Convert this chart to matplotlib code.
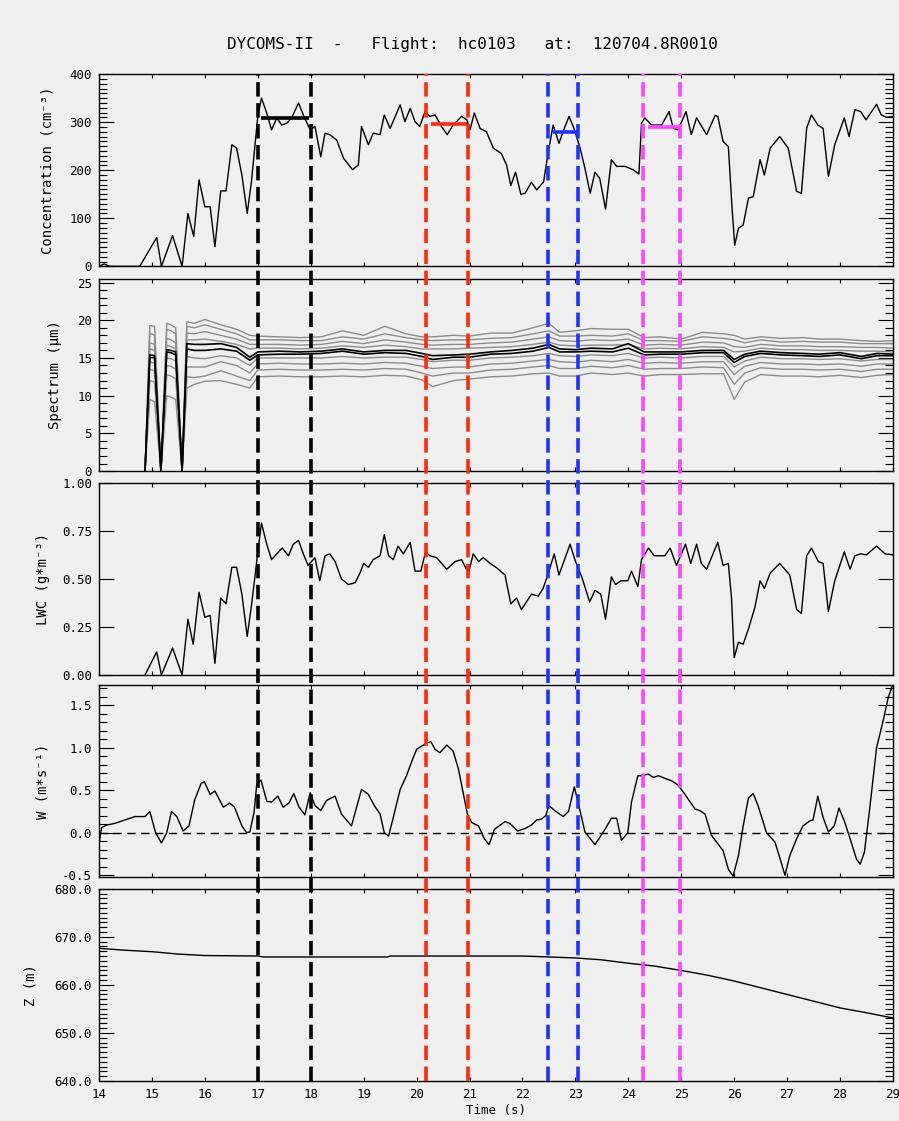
import numpy as np
import matplotlib
matplotlib.use('Agg')
import matplotlib.pyplot as plt
from matplotlib.ticker import MultipleLocator, FormatStrFormatter, NullLocator
from matplotlib.lines import Line2D
from matplotlib.transforms import blended_transform_factory

plt.rcParams['font.family'] = ['DejaVu Sans Mono', 'DejaVu Sans']

# Concentration (cm^-3)
t_conc = [14.0, 14.1, 14.2, 14.77, 15.09, 15.18, 15.39, 15.57, 15.68, 15.79, 15.89, 16.0, 16.1, 16.19,
          16.3, 16.4, 16.51, 16.6, 16.7, 16.8, 16.88, 17.0, 17.07, 17.16, 17.26, 17.36, 17.45, 17.55,
          17.64, 17.77, 17.86, 17.99, 18.08, 18.19, 18.27, 18.36, 18.49, 18.62, 18.79, 18.9, 18.96,
          19.09, 19.18, 19.31, 19.39, 19.5, 19.69, 19.78, 19.88, 19.97, 20.06, 20.16, 20.25, 20.35,
          20.47, 20.58, 20.69, 20.85, 20.95, 21.01, 21.09, 21.2, 21.32, 21.45, 21.6, 21.7, 21.78,
          21.87, 21.97, 22.05, 22.17, 22.27, 22.4, 22.49, 22.58, 22.69, 22.78, 22.88, 22.97, 23.09,
          23.18, 23.28, 23.37, 23.46, 23.57, 23.68, 23.78, 23.94, 24.09, 24.2, 24.25, 24.31, 24.44,
          24.63, 24.77, 24.85, 24.94, 25.09, 25.19, 25.29, 25.48, 25.64, 25.69, 25.79, 25.89, 25.96,
          26.01, 26.08, 26.17, 26.27, 26.36, 26.49, 26.57, 26.68, 26.86, 27.02, 27.18, 27.27, 27.37,
          27.46, 27.58, 27.68, 27.78, 27.9, 28.08, 28.17, 28.28, 28.39, 28.49, 28.69, 28.78, 28.88, 29.0]
conc = [0, 5, 0, 0, 60, 0, 64, 0, 110, 62, 180, 124, 124, 41,
        157, 157, 253, 246, 190, 110, 176, 312, 350, 322, 284, 309, 294, 298,
        309, 340, 315, 284, 291, 228, 277, 274, 263, 225, 201, 211, 291,
        253, 277, 274, 315, 287, 336, 301, 329, 301, 291, 322, 312, 315,
        291, 274, 294, 312, 305, 284, 319, 287, 280, 246, 235, 211, 168,
        196, 150, 152, 175, 159, 176, 239, 294, 256, 284, 312, 288, 246,
        204, 152, 196, 183, 119, 222, 208, 208, 201, 192, 298, 309, 294,
        294, 322, 287, 284, 322, 274, 309, 274, 314, 312, 260, 249, 121,
        44, 79, 86, 142, 145, 222, 190, 246, 270, 246, 156, 152, 288,
        315, 294, 287, 187, 253, 309, 270, 326, 322, 305, 337, 315, 310, 312]

# interval means of concentration: (start, end, value)
seg_start = [17.07, 20.27, 22.58, 24.38]
seg_end = [17.96, 20.95, 23.04, 24.94]
seg_conc = [308, 297, 279, 290]

# Spectrum (um): gray percentile lines + two black lines
t_spec = [14.87, 14.96, 15.05, 15.17, 15.28, 15.36, 15.45, 15.57, 15.66, 15.8, 16.0, 16.3, 16.6, 16.85,
          17.0, 17.4, 17.8, 18.2, 18.6, 19.0, 19.4, 19.8, 20.1, 20.3, 20.7, 21.0, 21.4, 21.8, 22.2,
          22.5, 22.7, 23.0, 23.3, 23.7, 24.0, 24.3, 24.6, 25.0, 25.4, 25.8, 26.0, 26.2, 26.5, 26.9,
          27.3, 27.6, 28.0, 28.4, 28.7, 29.0]
spec_g1 = [0, 19.3, 19.2, 0, 19.6, 19.4, 19.0, 0, 19.8, 19.6, 20.1, 19.4, 18.8, 18.0,
           17.9, 17.8, 17.7, 17.8, 18.6, 18.0, 19.2, 18.2, 17.8, 17.8, 18.0, 17.9, 18.3, 18.3, 19.0,
           19.6, 18.4, 18.6, 18.9, 18.8, 18.8, 17.7, 17.8, 17.5, 18.4, 18.2, 18.0, 17.5, 17.8, 17.6,
           17.7, 17.5, 17.5, 17.3, 17.2, 17.3]
spec_g2 = [0, 18.3, 18.0, 0, 18.8, 18.6, 18.2, 0, 19.2, 19.0, 19.4, 18.8, 18.2, 17.4,
           17.4, 17.4, 17.3, 17.3, 17.8, 17.5, 18.2, 17.7, 17.4, 17.3, 17.4, 17.4, 17.6, 17.7, 18.2,
           18.6, 17.9, 17.9, 18.0, 17.9, 18.2, 17.3, 17.3, 17.2, 17.8, 17.6, 17.4, 17.0, 17.4, 17.1,
           17.2, 17.1, 17.1, 16.9, 16.9, 16.9]
spec_g3 = [0, 17.0, 16.8, 0, 17.6, 17.4, 17.0, 0, 18.3, 18.2, 18.5, 18.0, 17.5, 16.8,
           16.8, 16.8, 16.7, 16.8, 17.2, 16.9, 17.4, 17.1, 16.8, 16.7, 16.8, 16.8, 17.0, 17.1, 17.5,
           17.8, 17.3, 17.2, 17.4, 17.3, 17.5, 16.7, 16.8, 16.7, 17.1, 17.0, 16.5, 16.4, 16.8, 16.6,
           16.6, 16.5, 16.5, 16.4, 16.4, 16.3]
spec_g4 = [0, 16.2, 16.0, 0, 16.7, 16.5, 16.2, 0, 17.4, 17.4, 17.5, 17.2, 16.8, 16.2,
           16.3, 16.3, 16.2, 16.3, 16.6, 16.4, 16.7, 16.5, 16.2, 16.2, 16.2, 16.3, 16.4, 16.5, 16.8,
           17.1, 16.7, 16.6, 16.7, 16.7, 16.8, 16.2, 16.3, 16.2, 16.5, 16.4, 15.8, 15.9, 16.3, 16.1,
           16.1, 16.0, 16.0, 15.9, 15.9, 15.8]
spec_g5 = [0, 14.5, 14.3, 0, 15.0, 14.9, 14.6, 0, 15.2, 15.0, 14.9, 15.3, 15.0, 14.0,
           15.0, 15.0, 15.0, 15.0, 15.2, 15.0, 15.1, 15.1, 14.8, 14.5, 14.7, 14.7, 15.0, 15.1, 15.3,
           15.6, 15.3, 15.2, 15.4, 15.3, 15.6, 15.0, 15.1, 15.0, 15.2, 15.2, 13.8, 14.6, 15.1, 14.9,
           14.9, 14.8, 14.9, 14.6, 14.8, 14.8]
spec_g6 = [0, 13.5, 13.3, 0, 14.0, 13.9, 13.5, 0, 13.8, 13.8, 13.8, 14.5, 14.0, 13.0,
           14.2, 14.3, 14.2, 14.2, 14.3, 14.2, 14.4, 14.3, 13.9, 13.6, 13.8, 13.8, 14.2, 14.3, 14.6,
           14.8, 14.5, 14.4, 14.7, 14.5, 14.8, 14.3, 14.4, 14.3, 14.5, 14.5, 12.8, 13.9, 14.4, 14.2,
           14.2, 14.1, 14.2, 13.9, 14.2, 14.2]
spec_g7 = [0, 12.0, 11.8, 0, 12.8, 12.6, 12.2, 0, 12.5, 12.4, 12.6, 13.3, 12.6, 12.0,
           13.4, 13.5, 13.4, 13.4, 13.5, 13.4, 13.6, 13.5, 13.0, 12.6, 13.0, 13.0, 13.4, 13.5, 13.8,
           14.0, 13.6, 13.6, 13.9, 13.7, 14.0, 13.5, 13.6, 13.6, 13.8, 13.7, 11.5, 13.0, 13.7, 13.5,
           13.5, 13.4, 13.5, 13.2, 13.5, 13.5]
spec_g8 = [0, 9.5, 9.2, 0, 10.0, 9.8, 9.5, 0, 11.0, 11.5, 11.9, 12.0, 11.5, 11.0,
           12.5, 12.6, 12.5, 12.5, 12.6, 12.5, 12.7, 12.6, 12.1, 11.2, 12.0, 12.2, 12.5, 12.6, 12.9,
           13.0, 12.6, 12.6, 13.0, 12.8, 13.0, 12.6, 12.8, 12.8, 12.9, 12.9, 9.5, 11.8, 12.8, 12.6,
           12.6, 12.5, 12.7, 12.4, 12.7, 12.8]
spec_k1 = [0, 15.4, 15.3, 0, 16.1, 16.0, 15.8, 0, 16.9, 16.8, 16.8, 16.9, 16.4, 15.1,
           15.8, 15.9, 15.8, 15.9, 16.2, 15.8, 16.0, 16.0, 15.6, 15.3, 15.4, 15.5, 15.8, 16.0, 16.3,
           16.8, 16.2, 16.1, 16.3, 16.2, 16.9, 15.8, 15.8, 15.8, 16.0, 16.0, 14.8, 15.5, 15.9, 15.7,
           15.6, 15.5, 15.7, 15.2, 15.6, 15.5]
spec_k2 = [0, 15.1, 15.0, 0, 15.8, 15.7, 15.4, 0, 16.2, 16.0, 16.0, 16.2, 15.9, 14.7,
           15.4, 15.5, 15.5, 15.6, 15.9, 15.5, 15.7, 15.6, 15.2, 14.8, 15.1, 15.1, 15.5, 15.6, 15.9,
           16.4, 15.8, 15.8, 15.9, 15.8, 16.3, 15.4, 15.5, 15.5, 15.7, 15.7, 14.4, 15.2, 15.6, 15.4,
           15.3, 15.2, 15.4, 14.9, 15.3, 15.3]

# LWC (g m^-3)
t_lwc = [14.87, 15.09, 15.18, 15.39, 15.57, 15.68, 15.78, 15.89, 16.0, 16.1, 16.19, 16.3, 16.4, 16.51,
         16.6, 16.7, 16.8, 16.88, 16.95, 17.0, 17.07, 17.17, 17.26, 17.36, 17.46, 17.58, 17.67, 17.77,
         17.86, 17.95, 18.08, 18.17, 18.27, 18.36, 18.46, 18.58, 18.71, 18.84, 18.93, 19.0, 19.09,
         19.18, 19.31, 19.39, 19.47, 19.56, 19.65, 19.75, 19.88, 19.97, 20.08, 20.17, 20.25, 20.38,
         20.57, 20.73, 20.85, 20.98, 21.07, 21.17, 21.26, 21.39, 21.5, 21.67, 21.78, 21.89, 21.98,
         22.17, 22.3, 22.39, 22.49, 22.6, 22.69, 22.9, 22.99, 23.12, 23.27, 23.37, 23.48, 23.57,
         23.68, 23.76, 23.86, 23.99, 24.06, 24.18, 24.25, 24.38, 24.49, 24.69, 24.79, 24.91, 25.08,
         25.18, 25.29, 25.38, 25.48, 25.69, 25.79, 25.89, 25.95, 26.0, 26.08, 26.17, 26.27, 26.39,
         26.49, 26.57, 26.68, 26.86, 27.05, 27.18, 27.27, 27.37, 27.46, 27.59, 27.68, 27.78, 27.9,
         28.08, 28.19, 28.28, 28.39, 28.5, 28.69, 28.85, 29.0]
lwc = [0.0, 0.12, 0.0, 0.14, 0.0, 0.29, 0.16, 0.43, 0.30, 0.31, 0.06, 0.40, 0.37, 0.56,
       0.56, 0.42, 0.20, 0.36, 0.52, 0.64, 0.79, 0.68, 0.60, 0.63, 0.66, 0.62, 0.68, 0.70,
       0.63, 0.57, 0.61, 0.49, 0.62, 0.63, 0.59, 0.50, 0.47, 0.48, 0.53, 0.58, 0.56,
       0.60, 0.62, 0.73, 0.62, 0.60, 0.67, 0.63, 0.69, 0.54, 0.54, 0.64, 0.62, 0.61,
       0.55, 0.59, 0.60, 0.53, 0.63, 0.59, 0.61, 0.58, 0.56, 0.52, 0.37, 0.40, 0.34,
       0.42, 0.41, 0.45, 0.53, 0.63, 0.52, 0.68, 0.60, 0.51, 0.38, 0.44, 0.42, 0.29,
       0.51, 0.47, 0.49, 0.49, 0.54, 0.46, 0.60, 0.66, 0.62, 0.62, 0.66, 0.57, 0.68,
       0.58, 0.68, 0.58, 0.55, 0.69, 0.57, 0.58, 0.40, 0.09, 0.17, 0.16, 0.24, 0.35,
       0.49, 0.45, 0.53, 0.58, 0.52, 0.34, 0.32, 0.62, 0.66, 0.59, 0.58, 0.33, 0.49,
       0.64, 0.55, 0.62, 0.63, 0.625, 0.67, 0.63, 0.625]

# Vertical velocity W (m s^-1)
t_w = [14.0, 14.05, 14.14, 14.3, 14.49, 14.68, 14.87, 14.96, 15.07, 15.18, 15.28, 15.37, 15.47, 15.59,
       15.7, 15.81, 15.93, 15.99, 16.1, 16.19, 16.35, 16.47, 16.56, 16.7, 16.79, 16.85, 16.93, 16.98,
       17.06, 17.17, 17.26, 17.38, 17.48, 17.59, 17.68, 17.78, 17.89, 17.99, 18.08, 18.19, 18.3,
       18.46, 18.58, 18.77, 18.96, 19.09, 19.2, 19.31, 19.39, 19.47, 19.56, 19.69, 19.81, 19.91,
       20.0, 20.1, 20.21, 20.27, 20.35, 20.44, 20.57, 20.69, 20.79, 20.88, 20.96, 21.04, 21.17,
       21.28, 21.37, 21.47, 21.58, 21.67, 21.76, 21.91, 22.05, 22.17, 22.27, 22.36, 22.44, 22.5,
       22.61, 22.77, 22.87, 22.98, 23.05, 23.18, 23.37, 23.56, 23.68, 23.78, 23.87, 23.99, 24.06,
       24.18, 24.25, 24.38, 24.47, 24.57, 24.69, 24.82, 24.94, 25.07, 25.26, 25.35, 25.45, 25.57,
       25.79, 25.89, 25.98, 26.08, 26.17, 26.27, 26.36, 26.45, 26.61, 26.77, 26.86, 26.96, 27.05,
       27.18, 27.3, 27.43, 27.49, 27.58, 27.68, 27.78, 27.89, 27.98, 28.08, 28.19, 28.31, 28.38,
       28.46, 28.56, 28.69, 28.82, 28.91, 28.99]
w = [-0.13, 0.06, 0.09, 0.11, 0.15, 0.19, 0.19, 0.25, 0.0, -0.12, 0.0, 0.25, 0.19, 0.02,
     0.08, 0.39, 0.58, 0.60, 0.45, 0.49, 0.30, 0.35, 0.30, 0.08, 0.0, 0.01, 0.24, 0.57,
     0.62, 0.37, 0.36, 0.43, 0.30, 0.35, 0.46, 0.30, 0.21, 0.47, 0.32, 0.26, 0.38,
     0.43, 0.22, 0.08, 0.51, 0.45, 0.32, 0.22, 0.0, -0.04, 0.18, 0.51, 0.67, 0.84,
     0.98, 1.02, 1.06, 1.07, 0.98, 0.94, 1.03, 0.96, 0.75, 0.47, 0.22, 0.12, 0.08,
     -0.07, -0.14, 0.04, 0.09, 0.13, 0.11, 0.02, 0.05, 0.09, 0.15, 0.16, 0.20, 0.32,
     0.26, 0.19, 0.25, 0.54, 0.36, 0.01, -0.14, 0.04, 0.17, 0.17, -0.09, 0.0, 0.36,
     0.67, 0.67, 0.69, 0.65, 0.67, 0.64, 0.61, 0.56, 0.45, 0.28, 0.26, 0.22, -0.03,
     -0.21, -0.43, -0.51, -0.27, 0.08, 0.41, 0.46, 0.32, 0.0, -0.11, -0.29, -0.50, -0.27,
     -0.07, 0.08, 0.14, 0.15, 0.43, 0.18, 0.01, 0.08, 0.29, 0.14, -0.07, -0.31, -0.37,
     -0.23, 0.28, 1.0, 1.33, 1.59, 1.73]

# Altitude Z (m)
t_z = [14.0, 14.5, 15.0, 15.5, 16.0, 17.0, 17.1, 18.0, 19.0, 19.45, 19.5, 20.5, 21.5, 22.0, 22.5,
       23.0, 23.5, 24.0, 24.5, 25.0, 25.5, 26.0, 26.5, 27.0, 27.5, 28.0, 28.5, 29.0]
z = [667.6, 667.2, 666.9, 666.4, 666.1, 666.0, 665.8, 665.8, 665.8, 665.8, 666.0, 666.0, 666.0, 666.0,
     665.8, 665.6, 665.2, 664.5, 663.9, 663.0, 662.0, 660.8, 659.4, 658.0, 656.6, 655.2, 654.2, 653.1]

# Averaging intervals (dashed vertical lines)
lines_t = [17.0, 18.0, 20.18, 20.97, 22.48, 23.05, 24.27, 24.97]
seg_colors = ['black', '#ff2a0a', '#1e32ff', '#ff44ff']

bg = '#efefef'
fig = plt.figure(figsize=(8.99, 11.21), dpi=100, facecolor=bg)

left, width, height = 0.1101, 0.8832, 0.1715
bottoms = [0.7624, 0.5798, 0.3979, 0.2177, 0.0357]
axes = [fig.add_axes([left, b, width, height], facecolor=bg) for b in bottoms]

ax1, ax2, ax3, ax4, ax5 = axes

ax1.plot(t_conc, conc, color='black', lw=1.0)
for i in range(4):
    ax1.plot([seg_start[i], seg_end[i]], [seg_conc[i], seg_conc[i]], color=seg_colors[i], lw=2.6,
             solid_capstyle='butt')
ax1.set_ylim(0, 400)
ax1.yaxis.set_major_locator(MultipleLocator(100))
ax1.yaxis.set_minor_locator(MultipleLocator(10))
ax1.set_ylabel('Concentration (cm⁻³)')

for g in [spec_g1, spec_g2, spec_g3, spec_g4, spec_g5, spec_g6, spec_g7, spec_g8]:
    ax2.plot(t_spec, g, color='#8c8c8c', lw=1.0)
ax2.plot(t_spec, spec_k1, color='black', lw=1.2)
ax2.plot(t_spec, spec_k2, color='black', lw=1.2)
ax2.set_ylim(0, 25.5)
ax2.yaxis.set_major_locator(MultipleLocator(5))
ax2.yaxis.set_minor_locator(MultipleLocator(1))
ax2.set_ylabel('Spectrum (μm)')

ax3.plot(t_lwc, lwc, color='black', lw=1.0)
ax3.set_ylim(0, 1.0)
ax3.yaxis.set_major_locator(MultipleLocator(0.25))
ax3.yaxis.set_minor_locator(NullLocator())
ax3.yaxis.set_major_formatter(FormatStrFormatter('%.2f'))
ax3.set_ylabel('LWC (g*m⁻³)')

ax4.plot(t_w, w, color='black', lw=1.0)
ax4.axhline(0, color='black', lw=1.0, linestyle=(0, (6, 4)))
ax4.set_ylim(-0.52, 1.74)
ax4.yaxis.set_major_locator(MultipleLocator(0.5))
ax4.yaxis.set_minor_locator(MultipleLocator(0.1))
ax4.yaxis.set_major_formatter(FormatStrFormatter('%.1f'))
ax4.set_ylabel('W (m*s⁻¹)')

ax5.plot(t_z, z, color='black', lw=1.0)
ax5.set_ylim(640, 680)
ax5.yaxis.set_major_locator(MultipleLocator(10))
ax5.yaxis.set_minor_locator(MultipleLocator(1))
ax5.yaxis.set_major_formatter(FormatStrFormatter('%.1f'))
ax5.set_ylabel('Z (m)')
ax5.set_xlabel('Time (s)', fontsize=9, labelpad=2)

label_x = [-0.056, -0.047, -0.062, -0.062, -0.077]
for ax, lx in zip(axes, label_x):
    ax.set_xlim(14, 29)
    ax.xaxis.set_major_locator(MultipleLocator(1))
    ax.tick_params(which='both', direction='in', top=True, right=True, labelsize=9, width=0.8)
    ax.tick_params(axis='x', which='major', length=3, pad=5)
    ax.tick_params(axis='y', which='major', length=11, pad=5)
    ax.tick_params(axis='y', which='minor', length=5.5)
    ax.yaxis.label.set_fontsize(10)
    ax.yaxis.set_label_coords(lx, 0.5)
    for s in ax.spines.values():
        s.set_linewidth(1.0)
    if ax is not ax5:
        ax.tick_params(axis='x', labelbottom=False)

# dashed interval markers spanning all panels
trans = blended_transform_factory(ax1.transData, fig.transFigure)
y_top = bottoms[0] + height
y_bot = bottoms[-1]
for i, tx in enumerate(lines_t):
    fig.add_artist(Line2D([tx, tx], [y_bot, y_top], transform=trans, color=seg_colors[i // 2],
                          lw=2.6, linestyle=(0, (4, 1.8))))

fig.text(0.525, 0.96, 'DYCOMS-II  -   Flight:  hc0103   at:  120704.8R0010',
         ha='center', va='center', fontsize=11.5)

plt.savefig('out.png', dpi=100, facecolor=bg)
